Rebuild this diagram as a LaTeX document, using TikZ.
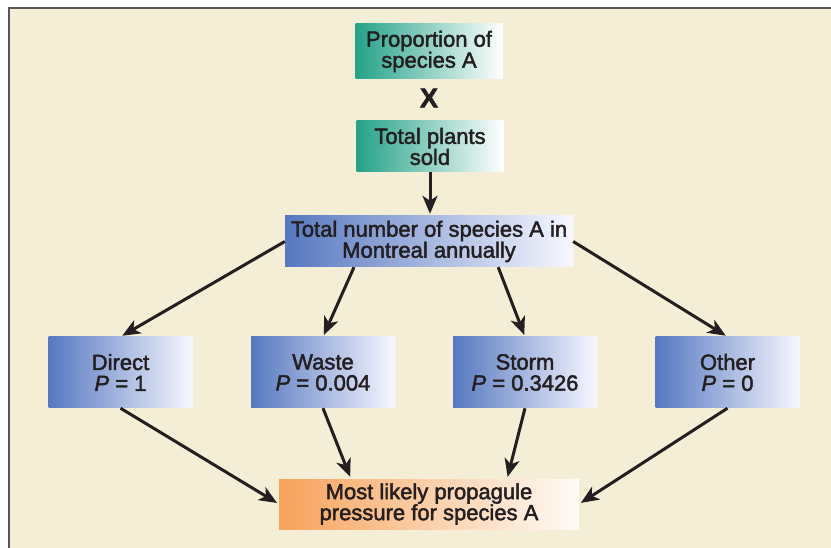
\documentclass[tikz,border=0pt]{standalone}
\usepackage{fontspec}
\setmainfont{Liberation Sans}[FakeBold=2]
\usetikzlibrary{arrows.meta,calc,positioning}
\definecolor{cream}{RGB}{245,238,214}
\definecolor{ink}{RGB}{35,31,32}
\definecolor{frame}{RGB}{88,86,88}
\definecolor{tealleft}{RGB}{36,162,136}
\definecolor{blueleft}{RGB}{86,120,192}
\definecolor{orangeleft}{RGB}{247,163,92}
\tikzset{
  basebox/.style={inner sep=0pt, align=center, text=ink,
    font=\fontsize{22}{21}\selectfont, right color=white},
  tealbox/.style={basebox, left color=tealleft, minimum width=147pt},
  bluebox/.style={basebox, left color=blueleft, right color=blue!3, minimum height=71pt, minimum width=144pt},
  orangebox/.style={basebox, left color=orangeleft, right color=orange!3, minimum width=300pt, minimum height=50pt},
  arr/.style={draw=ink, line width=3pt, -{Stealth[length=18pt,width=15pt,inset=5pt]}, shorten >=2pt}
}

\begin{document}
\begin{tikzpicture}[x=1pt,y=-1pt]
  \useasboundingbox (0,0) rectangle (831,548);
  \fill[cream] (8,7) rectangle (831,548);
  \draw[frame,line width=2pt] (9,548) -- (9,8) -- (831,8);

  \node[tealbox, minimum height=55pt] (prop) at (429,51.5) {Proportion of\\species A};
  \node[text=ink, font=\fontsize{27}{27}\bfseries\selectfont] (times) at (429,98) {X};
  \node[tealbox, minimum height=51pt] (plants) at (430,146.5) {Total plants\\sold};
  \node[basebox, left color=blueleft, right color=blue!3, minimum width=288pt, minimum height=51pt] (total) at (429,241.5) {Total number of species A in\\Montreal annually};

  \node[bluebox] (direct) at (120.5,372.5) {Direct\\\textit{P} = 1};
  \node[bluebox] (waste) at (323,372.5) {Waste\\\textit{P} = 0.004};
  \node[bluebox] (storm) at (525,372.5) {Storm\\\textit{P} = 0.3426};
  \node[bluebox] (other) at (727.5,372.5) {Other\\\textit{P} = 0};

  \node[orangebox] (most) at (429,504) {Most likely propagule\\pressure for species A};

  \draw[arr] (plants.south) -- (plants.south |- total.north);
  \draw[arr] (total.west) -- (direct.north);
  \draw[arr] ($(total.south west)!0.24!(total.south east)$) -- (waste.north);
  \draw[arr] ($(total.south west)!0.74!(total.south east)$) -- (storm.north);
  \draw[arr] (total.east) -- (other.north);

  \draw[arr] (direct.south) -- (most.west);
  \draw[arr] (waste.south) -- ($(most.north west)!0.24!(most.north east)$);
  \draw[arr] (storm.south) -- ($(most.north west)!0.76!(most.north east)$);
  \draw[arr] (other.south) -- (most.east);
\end{tikzpicture}
\end{document}
